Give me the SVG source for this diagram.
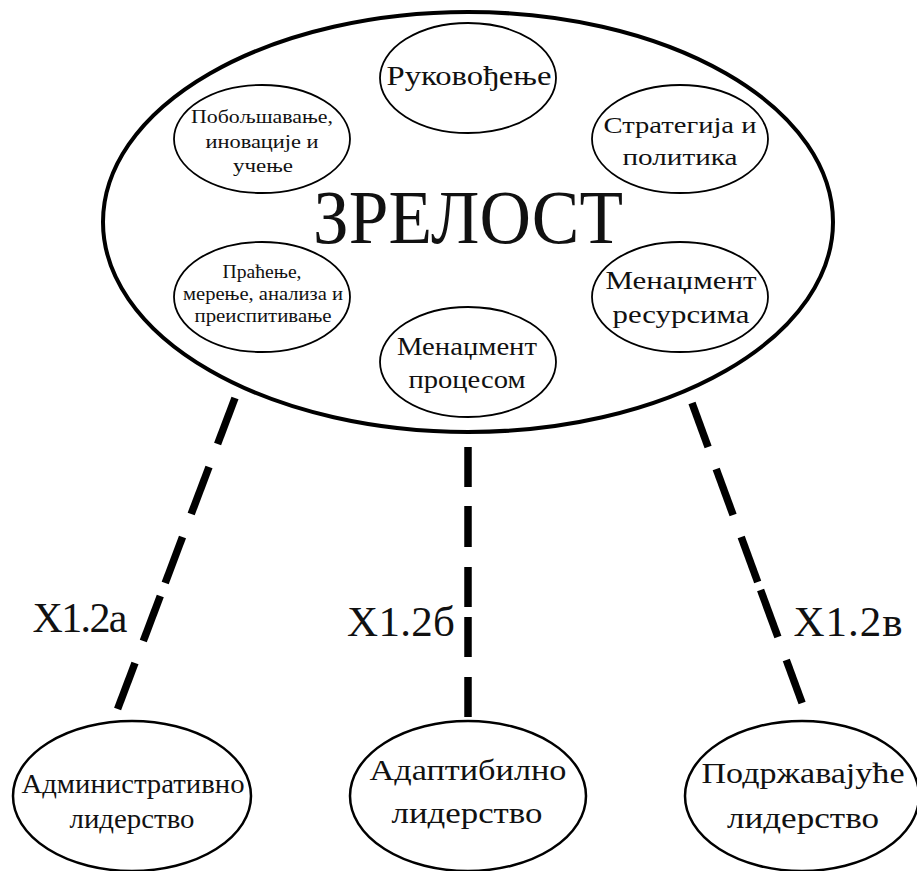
<svg xmlns="http://www.w3.org/2000/svg" width="917" height="871" viewBox="0 0 917 871">
  <style>
    .big { fill: #fff; stroke: #000; stroke-width: 4; }
    .sub { fill: #fff; stroke: #000; stroke-width: 1.8; }
    .leaf { fill: #fff; stroke: #000; stroke-width: 2.5; }
    .t { font-family: "Liberation Serif", "DejaVu Serif", serif; fill: #111; text-anchor: middle; }
    .dash { stroke: #000; stroke-width: 7.5; stroke-linecap: butt; }
  </style>
  <rect width="917" height="871" fill="#fff"/>

  <!-- dashed connectors from the main ellipse to the three leadership styles -->
  <g id="connectors">
    <g id="link-a">
      <line class="dash" x1="235" y1="398" x2="217.6" y2="444"/>
      <line class="dash" x1="209" y1="467" x2="191.2" y2="514"/>
      <line class="dash" x1="182.5" y1="537" x2="165.2" y2="583"/>
      <line class="dash" x1="160.3" y1="596" x2="143.3" y2="641"/>
      <line class="dash" x1="135" y1="663" x2="117.6" y2="709"/>
    </g>
    <g id="link-b">
      <line class="dash" x1="468" y1="447" x2="468" y2="487"/>
      <line class="dash" x1="468" y1="506" x2="468" y2="547"/>
      <line class="dash" x1="468" y1="567" x2="468" y2="607"/>
      <line class="dash" x1="468" y1="617" x2="468" y2="657"/>
      <line class="dash" x1="468" y1="677" x2="468" y2="717"/>
    </g>
    <g id="link-c">
      <line class="dash" x1="692" y1="403" x2="708.1" y2="447"/>
      <line class="dash" x1="716.2" y1="469" x2="733.1" y2="515"/>
      <line class="dash" x1="741.2" y1="537" x2="757.7" y2="582"/>
      <line class="dash" x1="760.6" y1="590" x2="777.9" y2="637"/>
      <line class="dash" x1="786.3" y1="660" x2="802.1" y2="703"/>
    </g>
    <text class="t" x="80" y="632" font-size="42" textLength="95">X1.2а</text>
    <text class="t" x="401" y="636" font-size="43" textLength="108">X1.2б</text>
    <text class="t" x="848" y="636" font-size="43" textLength="109">X1.2в</text>
  </g>

  <!-- main ellipse -->
  <g id="maturity">
    <ellipse class="big" cx="468" cy="222" rx="365" ry="210"/>
    <text class="t" x="468" y="243" font-size="76" textLength="310" lengthAdjust="spacingAndGlyphs">ЗРЕЛОСТ</text>
  </g>

  <g id="leading">
    <ellipse class="sub" cx="468" cy="78" rx="88" ry="55"/>
    <text class="t" x="469" y="85" font-size="27" textLength="165" lengthAdjust="spacingAndGlyphs">Руковођење</text>
  </g>

  <g id="improvement">
    <ellipse class="sub" cx="262" cy="139" rx="88" ry="54"/>
    <text class="t" x="262" y="123" font-size="18" textLength="142" lengthAdjust="spacingAndGlyphs">Побољшавање,</text>
    <text class="t" x="262" y="148" font-size="18" textLength="113" lengthAdjust="spacingAndGlyphs">иновације и</text>
    <text class="t" x="263" y="172" font-size="18" textLength="60" lengthAdjust="spacingAndGlyphs">учење</text>
  </g>

  <g id="strategy">
    <ellipse class="sub" cx="680" cy="139" rx="88" ry="54"/>
    <text class="t" x="680" y="133" font-size="23" textLength="153" lengthAdjust="spacingAndGlyphs">Стратегија и</text>
    <text class="t" x="680" y="165" font-size="23" textLength="115" lengthAdjust="spacingAndGlyphs">политика</text>
  </g>

  <g id="monitoring">
    <ellipse class="sub" cx="262" cy="297" rx="88" ry="55"/>
    <text class="t" x="262" y="278" font-size="18" textLength="79" lengthAdjust="spacingAndGlyphs">Праћење,</text>
    <text class="t" x="263" y="300" font-size="18" textLength="160" lengthAdjust="spacingAndGlyphs">мерење, анализа и</text>
    <text class="t" x="263" y="322" font-size="18" textLength="137" lengthAdjust="spacingAndGlyphs">преиспитивање</text>
  </g>

  <g id="resources">
    <ellipse class="sub" cx="680" cy="297" rx="88" ry="55"/>
    <text class="t" x="681" y="289" font-size="25" textLength="151" lengthAdjust="spacingAndGlyphs">Менаџмент</text>
    <text class="t" x="681" y="323" font-size="25" textLength="137" lengthAdjust="spacingAndGlyphs">ресурсима</text>
  </g>

  <g id="process">
    <ellipse class="sub" cx="468" cy="362" rx="88" ry="55"/>
    <text class="t" x="467" y="355" font-size="25" textLength="140" lengthAdjust="spacingAndGlyphs">Менаџмент</text>
    <text class="t" x="467" y="388" font-size="25" textLength="117" lengthAdjust="spacingAndGlyphs">процесом</text>
  </g>

  <!-- leadership styles -->
  <g id="administrative">
    <ellipse class="leaf" cx="132" cy="796" rx="119" ry="75"/>
    <text class="t" x="133" y="793" font-size="27" textLength="223" lengthAdjust="spacingAndGlyphs">Административно</text>
    <text class="t" x="132" y="828" font-size="27" textLength="125" lengthAdjust="spacingAndGlyphs">лидерство</text>
  </g>

  <g id="adaptive">
    <ellipse class="leaf" cx="468" cy="796" rx="118" ry="75"/>
    <text class="t" x="468" y="780" font-size="30" textLength="197" lengthAdjust="spacingAndGlyphs">Адаптибилно</text>
    <text class="t" x="467" y="823" font-size="30" textLength="151" lengthAdjust="spacingAndGlyphs">лидерство</text>
  </g>

  <g id="supportive">
    <ellipse class="leaf" cx="802" cy="796" rx="117" ry="75"/>
    <text class="t" x="803" y="783" font-size="30" textLength="203" lengthAdjust="spacingAndGlyphs">Подржавајуће</text>
    <text class="t" x="803" y="828" font-size="30" textLength="152" lengthAdjust="spacingAndGlyphs">лидерство</text>
  </g>
</svg>
